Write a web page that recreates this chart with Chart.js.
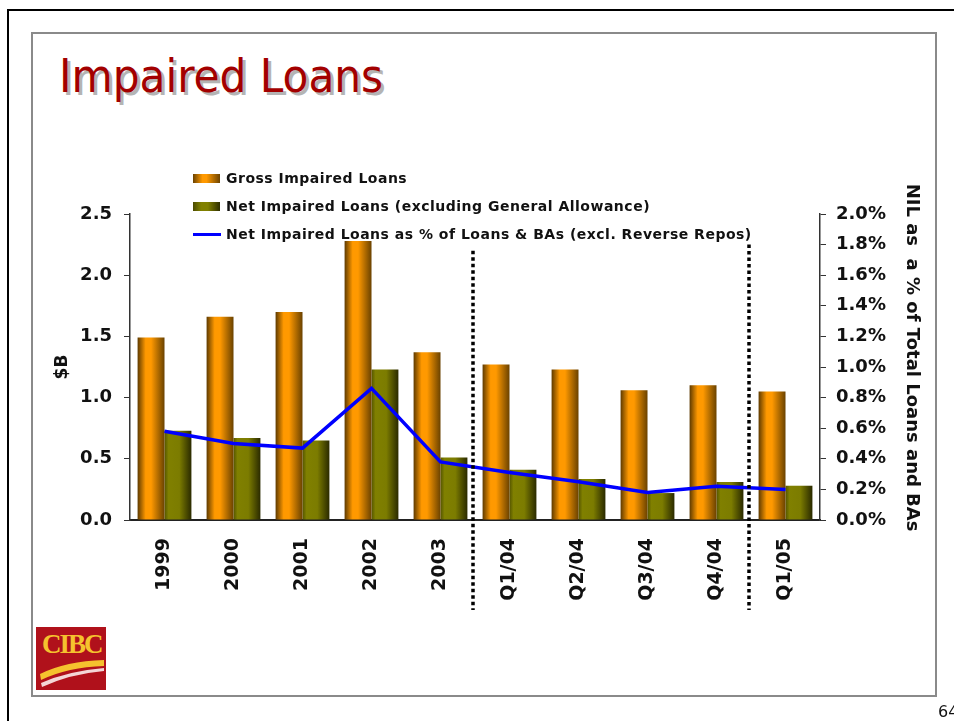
<!DOCTYPE html>
<html>
<head>
<meta charset="utf-8">
<script src="https://cdn.jsdelivr.net/npm/chart.js@4.4.1/dist/chart.umd.min.js"></script>
<style>
  html, body { margin:0; padding:0; background:#fff; overflow:hidden; }
  body { width:954px; height:721px; position:relative; font-family:"DejaVu Sans", Verdana, sans-serif; }
  #outer { position:absolute; left:7px; top:9px; width:1000px; height:800px; border-left:2px solid #000; border-top:2px solid #000; }
  #inner { position:absolute; left:31px; top:32px; width:902px; height:661px; border:2px solid #8a8a8a; }
  #title { position:absolute; left:59px; top:52px; font-family:"DejaVu Sans Condensed","DejaVu Sans",sans-serif; font-stretch:condensed;
           font-size:47px; color:#a30000; text-shadow:3px 3px 0 #b4b4b4; white-space:nowrap; line-height:1; }
  #chart { position:absolute; left:0; top:0; }
  #legend { position:absolute; left:193px; top:169px; font-weight:bold; font-size:14px; color:#111; letter-spacing:0.5px; }
  #legend .row { height:28px; display:flex; align-items:center; white-space:nowrap; position:absolute; left:0; }
  #legend .sw { display:inline-block; width:27px; height:9px; margin-right:6px; }
  #legend .ln { display:inline-block; width:28px; height:3px; background:#0000ff; margin-right:5px; }
  #logo { position:absolute; left:36px; top:627px; width:70px; height:63px; background:#b0111b; overflow:hidden; }
  #logo span { position:absolute; left:6px; top:2px; font-family:"Liberation Serif","DejaVu Serif",serif; font-weight:bold; font-size:27px; color:#f5c22e; letter-spacing:-2px; }
  #logo svg { position:absolute; left:0; top:0; }
  #pg { position:absolute; left:938px; top:702px; font-size:16px; color:#111; font-family:"DejaVu Sans",sans-serif; }
</style>
</head>
<body>
<div id="outer"></div>
<div id="inner"></div>
<div id="title">Impaired Loans</div>
<canvas id="chart" width="954" height="721"></canvas>
<div id="legend">
  <div class="row" style="top:-5px"><span class="sw" style="background:linear-gradient(90deg,#6a4200 0%,#ff9900 35%,#ff9900 50%,#6e4400 100%)"></span>Gross Impaired Loans</div>
  <div class="row" style="top:23px"><span class="sw" style="background:linear-gradient(90deg,#4a4a00 0%,#808000 30%,#808000 55%,#2e2e00 100%)"></span>Net Impaired Loans (excluding General Allowance)</div>
  <div class="row" style="top:51px"><span class="ln"></span>Net Impaired Loans as % of Loans &amp; BAs (excl. Reverse Repos)</div>
</div>
<div id="logo">
  <span>CIBC</span>
  <svg width="70" height="63" viewBox="0 0 70 63">
    <path d="M4 47 Q30 34 68 33 L68 39 Q32 40 5 53 Z" fill="#f5c22e"/>
    <path d="M5 56 Q32 44 68 41 L68 44 Q34 47 6 60 Z" fill="#f4d6d6"/>
  </svg>
</div>
<div id="pg">64</div>
<script>
const categories = ["1999","2000","2001","2002","2003","Q1/04","Q2/04","Q3/04","Q4/04","Q1/05"];
const grossImpaired = [1.49, 1.66, 1.70, 2.28, 1.37, 1.27, 1.23, 1.06, 1.10, 1.05];
const netImpaired   = [0.73, 0.67, 0.65, 1.23, 0.51, 0.41, 0.335, 0.22, 0.31, 0.28];
const nilPercent    = [0.58, 0.50, 0.47, 0.86, 0.38, 0.31, 0.25, 0.18, 0.22, 0.20];
const leftTicks  = [0, 0.5, 1.0, 1.5, 2.0, 2.5];
const rightTicks = [0, 0.2, 0.4, 0.6, 0.8, 1.0, 1.2, 1.4, 1.6, 1.8, 2.0];
const seriesNames = ["Gross Impaired Loans", "Net Impaired Loans (excluding General Allowance)", "Net Impaired Loans as % of Loans & BAs (excl. Reverse Repos)"];
const dividerAfter = [4, 8];   // dotted separators after these category indexes
const dividerTop   = [2.2, 2.25]; // top of separators, in $B units

const CAT_PCT = 0.78;
const FONT = "'DejaVu Sans', Verdana, sans-serif";

function barGradient(ctx, which) {
  const chart = ctx.chart;
  const xs = chart.scales && chart.scales.x;
  const fallback = which === 0 ? '#ff9900' : '#808000';
  if (!xs || !chart.chartArea || ctx.dataIndex === undefined) return fallback;
  const c = xs.getPixelForValue(ctx.dataIndex);
  const band = xs.width / categories.length;
  const bw = band * CAT_PCT / 2;
  const x0 = which === 0 ? c - bw : c;
  const g = chart.ctx.createLinearGradient(x0, 0, x0 + bw, 0);
  if (which === 0) {
    g.addColorStop(0, '#5e3a00');
    g.addColorStop(0.3, '#ff9900');
    g.addColorStop(0.5, '#ff9900');
    g.addColorStop(1, '#6a4200');
  } else {
    g.addColorStop(0, '#555500');
    g.addColorStop(0.15, '#808000');
    g.addColorStop(0.55, '#7c7c00');
    g.addColorStop(1, '#2a2a00');
  }
  return g;
}

const dividers = {
  id: 'dividers',
  afterDatasetsDraw(chart) {
    const {ctx, chartArea} = chart;
    const xs = chart.scales.x, ys = chart.scales.y;
    ctx.save();
    ctx.strokeStyle = '#000';
    ctx.lineWidth = 3.5;
    ctx.setLineDash([3.5, 3]);
    dividerAfter.forEach((i, k) => {
      const x = (xs.getPixelForValue(i) + xs.getPixelForValue(i + 1)) / 2 - 2;
      ctx.beginPath();
      ctx.moveTo(x, ys.getPixelForValue(dividerTop[k]));
      ctx.lineTo(x, chartArea.bottom + 90);
      ctx.stroke();
    });
    ctx.restore();
  }
};

new Chart(document.getElementById('chart'), {
  data: {
    labels: categories,
    datasets: [
      { type:'line', label: seriesNames[2], data: nilPercent, yAxisID:'y1', borderColor:'#0000ff', borderWidth:3.5,
        pointRadius:0, tension:0, order:0, fill:false },
      { type:'bar', label: seriesNames[0], data: grossImpaired, yAxisID:'y', backgroundColor: c => barGradient(c, 0),
        categoryPercentage: CAT_PCT, barPercentage: 1, order:1 },
      { type:'bar', label: seriesNames[1], data: netImpaired, yAxisID:'y', backgroundColor: c => barGradient(c, 1),
        categoryPercentage: CAT_PCT, barPercentage: 1, order:1 }
    ]
  },
  options: {
    responsive:false,
    animation:false,
    layout: { padding: { left:48, right:28, top:214, bottom:101 } },
    plugins: { legend:{ display:false }, tooltip:{ enabled:false } },
    scales: {
      x: {
        grid: { drawOnChartArea:false, drawTicks:false },
        border: { color:'#222', width:2 },
        ticks: { autoSkip:false, minRotation:90, maxRotation:90, padding:18, color:'#111', font:{ family:FONT, size:19, weight:'bold' } },
        afterFit: s => { s.height = 100; }
      },
      y: {
        position:'left', min:0, max:2.5,
        afterBuildTicks: s => { s.ticks = leftTicks.map(v => ({ value:v })); },
        grid: { drawOnChartArea:false, tickLength:6, color:'#333' },
        border: { color:'#333', width:1.5 },
        ticks: { padding:12, color:'#111', font:{ family:FONT, size:18, weight:'bold' }, callback: v => v.toFixed(1) },
        title: { display:true, text:'$B', color:'#111', padding:{ top:4, bottom:4 }, font:{ family:FONT, size:17, weight:'bold' } },
        afterFit: s => { s.width = 82; }
      },
      y1: {
        position:'right', min:0, max:2.0,
        afterBuildTicks: s => { s.ticks = rightTicks.map(v => ({ value:v })); },
        grid: { drawOnChartArea:false, tickLength:6, color:'#333' },
        border: { color:'#333', width:1.5 },
        ticks: { padding:10, color:'#111', font:{ family:FONT, size:18, weight:'bold' }, callback: v => v.toFixed(1) + '%' },
        title: { display:true, text:'NIL as  a % of Total Loans and BAs   ', color:'#111', padding:{ top:4, bottom:4 }, font:{ family:FONT, size:18, weight:'bold' } },
        afterFit: s => { s.width = 106; }
      }
    }
  },
  plugins: [dividers]
});
</script>
</body>
</html>
